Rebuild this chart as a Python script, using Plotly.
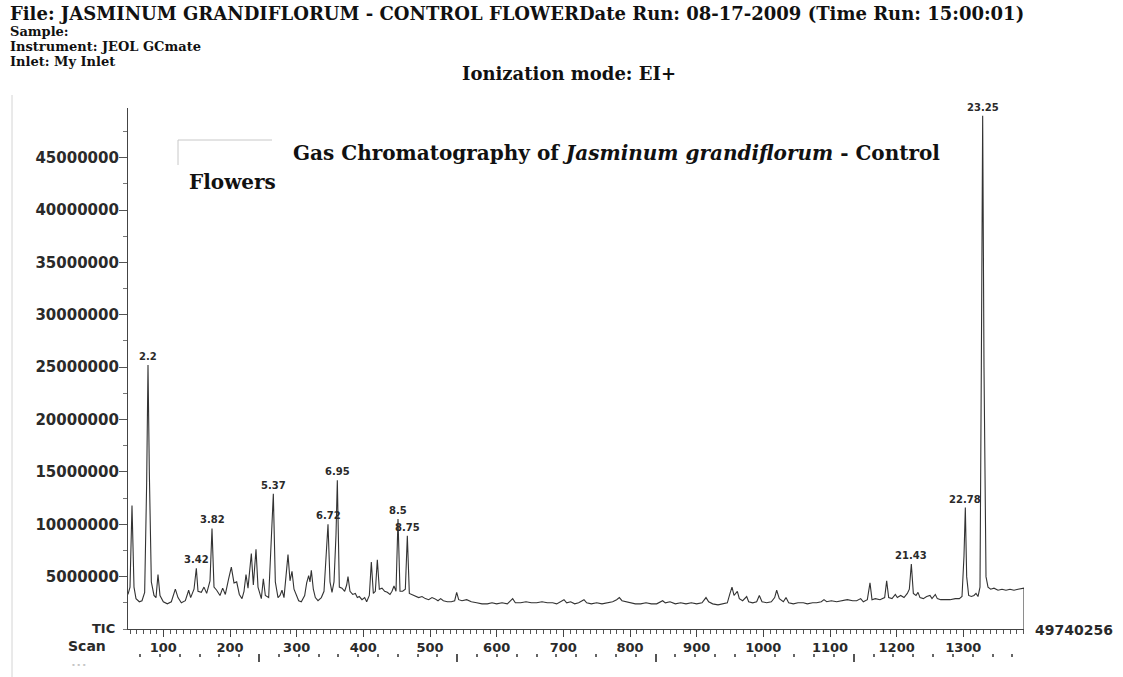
import plotly.graph_objects as go

# ---------------- data ----------------
scans = [47, 50, 53, 56, 59, 64, 68, 72, 75, 77, 79, 82, 86, 89, 92, 95, 100, 106, 112, 118,
         122, 127, 133, 138, 141, 146, 149.5, 152, 157, 161, 165, 170, 173, 176, 180, 185, 189, 193,
         198, 202, 206, 210, 214, 218, 221, 224, 227, 232, 235, 239, 242, 247, 250, 253, 258, 262,
         265, 268, 272, 275, 278, 281, 284, 287, 290, 293, 296, 300, 303, 307, 312, 315, 318, 320,
         322, 325, 328, 332, 337, 341, 344, 347, 350, 353, 356, 359, 361, 364, 368, 372, 375, 377,
         380, 384, 388, 391, 394, 398, 402, 405, 409, 412, 415, 418, 421, 424, 428, 432, 436, 440,
         443, 446, 449, 452, 455, 459, 463, 466, 469, 473, 478, 483, 488, 493, 498, 503, 507, 512,
         516, 520, 526, 532, 537, 540, 543, 548, 555, 562, 570, 578, 586, 593, 600, 608, 616, 624,
         628, 636, 644, 652, 660, 668, 676, 684, 690, 696, 701, 705, 711, 717, 723, 731, 735, 742,
         750, 758, 766, 774, 780, 784, 788, 794, 800, 808, 816, 824, 832, 840, 849, 853, 860, 868,
         876, 884, 892, 900, 908, 914, 918, 924, 932, 940, 946, 950, 953, 956, 961, 964, 969, 975,
         978, 984, 990, 994, 998, 1005, 1012, 1017, 1020, 1024, 1030, 1034, 1038, 1045, 1052, 1060,
         1066, 1074, 1080, 1087, 1091, 1095, 1102, 1110, 1118, 1126, 1134, 1140, 1146, 1150, 1156,
         1160, 1163, 1168, 1175, 1182, 1185, 1188, 1193, 1198, 1201, 1206, 1211, 1216, 1219, 1222,
         1225, 1229, 1232, 1235, 1240, 1245, 1250, 1253, 1258, 1261, 1266, 1272, 1280, 1288, 1294,
         1298, 1301, 1303, 1305, 1308, 1312, 1316, 1319, 1322, 1325, 1327, 1329, 1331, 1334, 1337,
         1341, 1346, 1352, 1358, 1364, 1370, 1376, 1382, 1388, 1391, 1391]

intensity_millions = [3.3, 4.0, 11.8, 4.0, 2.9, 2.6, 2.7, 3.5, 14.0, 25.2, 15.0, 4.5, 3.2, 3.0, 5.2, 3.2, 2.6, 2.4, 2.6, 3.8,
                      3.0, 2.5, 2.7, 3.7, 3.0, 3.8, 5.8, 3.6, 3.5, 4.0, 3.4, 4.6, 9.6, 4.0, 3.7, 3.2, 3.9, 3.3,
                      4.8, 5.9, 4.4, 4.5, 3.3, 2.9, 3.6, 5.2, 3.9, 7.2, 4.2, 7.6, 4.0, 2.9, 4.8, 3.2, 3.0, 8.0,
                      12.9, 4.5, 3.0, 3.2, 3.7, 3.0, 4.8, 7.1, 4.6, 5.5, 3.8, 3.2, 2.7, 2.6, 3.2, 4.4, 5.1, 4.5,
                      5.6, 3.8, 3.0, 2.7, 3.0, 3.6, 7.0, 10.0, 4.5, 3.5, 4.5, 9.0, 14.2, 4.0, 3.9, 3.6, 4.2, 5.0,
                      3.6, 3.3, 3.4, 3.0, 3.1, 2.8, 3.0, 2.6, 3.2, 6.4, 3.4, 3.6, 6.6, 3.8, 3.9, 3.6, 3.5, 3.3,
                      3.6, 4.1, 3.6, 10.5, 3.6, 3.6, 3.8, 8.9, 3.4, 3.3, 3.2, 3.0, 3.1, 2.9, 2.8, 3.0, 2.9, 2.7,
                      2.9, 2.7, 2.6, 2.6, 2.7, 3.5, 2.8, 2.7, 2.8, 2.6, 2.5, 2.4, 2.4, 2.5, 2.4, 2.5, 2.4, 2.9,
                      2.5, 2.5, 2.6, 2.5, 2.5, 2.6, 2.5, 2.5, 2.4, 2.6, 2.8, 2.5, 2.6, 2.4, 2.5, 2.8, 2.5, 2.4,
                      2.5, 2.4, 2.5, 2.6, 2.8, 3.0, 2.7, 2.6, 2.5, 2.4, 2.4, 2.5, 2.4, 2.4, 2.7, 2.5, 2.6, 2.4,
                      2.5, 2.4, 2.5, 2.4, 2.5, 3.0, 2.6, 2.4, 2.3, 2.4, 2.5, 3.4, 4.0, 3.2, 3.6, 2.9, 2.7, 3.1,
                      2.6, 2.5, 2.6, 3.2, 2.6, 2.5, 2.6, 3.0, 3.7, 2.9, 2.6, 3.0, 2.5, 2.4, 2.5, 2.5,
                      2.4, 2.5, 2.5, 2.6, 2.8, 2.6, 2.7, 2.6, 2.7, 2.8, 2.7, 2.7, 2.9, 2.6, 2.8,
                      4.4, 2.8, 2.9, 2.8, 3.0, 4.6, 3.0, 2.9, 3.3, 3.0, 3.2, 3.0, 3.4, 3.8, 6.2,
                      3.4, 3.2, 3.5, 3.0, 2.9, 3.1, 3.2, 2.9, 3.3, 2.9, 2.8, 2.8, 2.8, 2.9, 2.9,
                      3.1, 7.0, 11.6, 5.0, 3.2, 3.1, 3.2, 3.4, 3.1, 4.0, 25.0, 49.0, 25.0, 5.0, 4.0,
                      3.8, 3.9, 3.7, 3.8, 3.7, 3.8, 3.7, 3.8, 3.9, 3.9, 0.0]

peak_scans = [77, 149.5, 173, 265, 347, 361, 452, 466, 1222, 1303, 1329]
peak_labels = ["2.2", "3.42", "3.82", "5.37", "6.72", "6.95", "8.5", "8.75", "21.43", "22.78", "23.25"]
peak_heights_millions = [25.2, 5.8, 9.6, 12.9, 10.0, 14.2, 10.5, 8.9, 6.2, 11.6, 49.0]

y_tick_values = [5000000, 10000000, 15000000, 20000000, 25000000, 30000000, 35000000, 40000000, 45000000]
y_tick_labels = ["5000000", "10000000", "15000000", "20000000", "25000000",
                 "30000000", "35000000", "40000000", "45000000"]
x_tick_values = [100, 200, 300, 400, 500, 600, 700, 800, 900, 1000, 1100, 1200, 1300]
max_intensity = 49740256
scan_range = [47, 1391]

intensity = [v * 1e6 for v in intensity_millions]
peak_heights = [v * 1e6 for v in peak_heights_millions]

# retention time axis (minutes) derived from the labelled peaks
rate = (peak_scans[-1] - peak_scans[0]) / (float(peak_labels[-1]) - float(peak_labels[0]))
scan0 = peak_scans[0] - float(peak_labels[0]) * rate
time_range = [(s - scan0) / rate for s in scan_range]

# ---------------- layout geometry (pixels) ----------------
W, H = 1123, 677
L, R, T, B = 128, 99, 108, 15
plot_bottom = H - B          # 662
axis_py = 629
time_row_py = 654
pw, ph = W - L - R, H - T - B


def px(x):
    return (x - L) / pw


def py(y):
    return (plot_bottom - y) / ph


SERIF = "DejaVu Serif"
SANS = "DejaVu Sans"
INK = "#2a2a2a"

fig = go.Figure()
fig.add_trace(go.Scatter(x=scans, y=intensity, mode="lines",
                         line=dict(color="#333333", width=1.1), hoverinfo="skip",
                         showlegend=False))
# transparent trace that carries the retention-time tick row
fig.add_trace(go.Scatter(x=time_range, y=[0, 0], xaxis="x2", yaxis="y2",
                         mode="markers", marker=dict(opacity=0, size=1),
                         showlegend=False, hoverinfo="skip"))

annotations = []
for s, lab, h in zip(peak_scans, peak_labels, peak_heights):
    annotations.append(dict(x=s, y=h, xref="x", yref="y", text="<b>" + lab + "</b>",
                            showarrow=False, yanchor="bottom", xanchor="center", yshift=1,
                            font=dict(family=SANS, size=10, color=INK)))


def note(text, x, y, size, family=SERIF, anchor="left", color="#111"):
    annotations.append(dict(x=px(x), y=py(y), xref="paper", yref="paper", text=text,
                            showarrow=False, xanchor=anchor, yanchor="middle",
                            font=dict(family=family, size=size, color=color)))


note("<b>File: JASMINUM GRANDIFLORUM - CONTROL FLOWERDate Run: 08-17-2009 (Time Run: 15:00:01)</b>", 8, 13, 18)
note("<b>Sample:</b>", 8, 31.5, 13)
note("<b>Instrument: JEOL GCmate</b>", 8, 46.5, 13)
note("<b>Inlet: My Inlet</b>", 8, 61.5, 13)
note("<b>Ionization mode: EI+</b>", 460, 73, 18)
note("<b>Gas Chromatography of <i>Jasminum grandiflorum</i> - Control</b>", 291, 153, 20)
note("<b>Flowers</b>", 187, 182, 20)
note("<b>TIC</b>", 117, 628, 13, family=SANS, anchor="right", color=INK)
note("<b>Scan</b>", 108, 646, 14, family=SANS, anchor="right", color=INK)
note("<b>- - -</b>", 70, 665, 7, family=SANS, color="#999")
note("<b>" + str(max_intensity) + "</b>", 1033, 630, 14, family=SANS, color=INK)

shapes = [
    # faint corner of the title box
    dict(type="line", xref="paper", yref="paper", x0=px(178), x1=px(272), y0=py(140), y1=py(140),
         line=dict(color="#c8c8c8", width=1)),
    dict(type="line", xref="paper", yref="paper", x0=px(178), x1=px(178), y0=py(140), y1=py(165),
         line=dict(color="#c8c8c8", width=1)),
    # page edge of the scan
    dict(type="line", xref="paper", yref="paper", x0=px(12), x1=px(12), y0=py(95), y1=py(677),
         line=dict(color="#d4d4d4", width=1)),
]

fig.update_layout(
    width=W, height=H,
    margin=dict(l=L, r=R, t=T, b=B, pad=0),
    paper_bgcolor="white", plot_bgcolor="white",
    showlegend=False,
    annotations=annotations,
    shapes=shapes,
    xaxis=dict(range=scan_range, showgrid=False, zeroline=False,
               showline=True, linecolor="#444", linewidth=1.2,
               tickmode="array", tickvals=x_tick_values,
               ticks="outside", ticklen=7, tickcolor="#444", tickwidth=1.2,
               minor=dict(dtick=10, tick0=0, ticks="outside", ticklen=4, tickcolor="#555", tickwidth=1),
               tickfont=dict(family=SANS, size=13, color=INK, weight="bold"),
               ticklabelstandoff=-1,
               anchor="y"),
    yaxis=dict(range=[0, max_intensity], domain=[py(axis_py), 1], showgrid=False, zeroline=False,
               showline=True, linecolor="#444", linewidth=1.2,
               tickmode="array", tickvals=y_tick_values, ticktext=y_tick_labels,
               ticks="outside", ticklen=8, tickcolor="#555", tickwidth=1,
               minor=dict(dtick=2500000, tick0=0, ticks="outside", ticklen=4, tickcolor="#777"),
               tickfont=dict(family=SANS, size=15, color=INK, weight="bold"),
               ticklabelstandoff=-3),
    xaxis2=dict(range=time_range, anchor="y2", side="top",
                showgrid=False, zeroline=False, showline=False,
                showticklabels=False, tickmode="linear", dtick=5, tick0=0, ticks="inside", ticklen=8,
                tickcolor="#555", tickwidth=1.5,
                minor=dict(dtick=0.5, tick0=0, ticks="inside", ticklen=3, tickcolor="#666",
                           tickwidth=1.5)),
    yaxis2=dict(domain=[0, py(time_row_py)], anchor="x2", visible=False, range=[-1, 1],
                fixedrange=True),
)

fig.write_html("out.html")
